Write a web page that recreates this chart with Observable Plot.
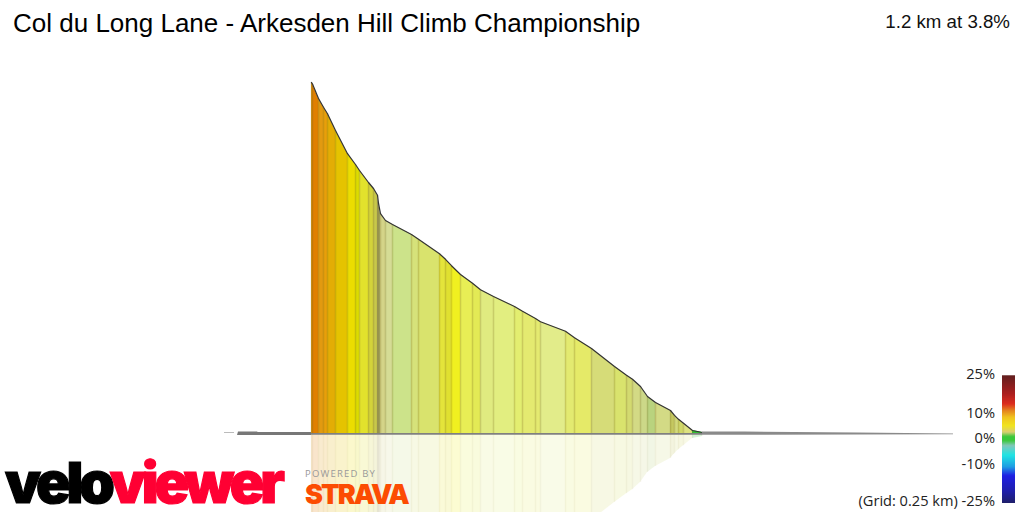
<!DOCTYPE html>
<html><head><meta charset="utf-8">
<script src="https://cdn.jsdelivr.net/npm/d3@7"></script>
<script src="https://cdn.jsdelivr.net/npm/@observablehq/plot@0.6"></script>
<style>
html,body{margin:0;padding:0;background:#fff;width:1024px;height:512px;overflow:hidden}
#wrap{position:relative;width:1024px;height:512px;overflow:hidden}
#wrap svg{position:absolute;left:0;top:0}
.t{position:absolute;white-space:nowrap;line-height:1}
.lg{font-family:"Open Sans",sans-serif;font-size:14.6px;color:#222;right:29px;text-align:right}
</style></head><body><div id="wrap"></div>
<script>
const titleText = "Col du Long Lane - Arkesden Hill Climb Championship";
const summaryText = "1.2 km at 3.8%";
const gridText = "(Grid: 0.25 km)";
// Climb: segment boundaries (m along route), elevation (m above foot), grade of the segment that starts there (%)
const distances = [0,3,21,36,48,72,108,132,144,171,186,198,201,207,222,243,300,321,384,402,420,447,483,507,546,609,633,672,687,762,789,840,909,945,963,987,1008,1032,1077,1089,1101,1116,1143,1173];
const elevations = [44,43.8,42.0,40.9,40.1,38,35.1,33.75,33,31.5,30.75,29.9,28.9,27.6,26.75,26.25,25,24.4,22.6,21.9,21.1,20,18.9,18.1,17.25,16,15.4,14.5,14.1,12.9,12.1,10.75,8.5,7.4,6.9,6,4.75,4,3,2.4,1.9,1.4,0.5,0.25];
const grades = [10.5,11,10,9.5,9,8,7,6.5,4.8,4.5,1.8,1,1,2.3,2.5,2,3.1,3,5,5.2,6,5.6,5.4,3.6,3.7,4.1,4,4,3.3,4.2,4.3,2.8,3,2.7,2.6,2.4,1.5,2.6,1.9,2.65,2.9,3.2,0.5];
// Colour stops of the gradient scale
const gradeStops = [0.5,1,1.5,1.8,1.9,2,2.3,2.4,2.5,2.6,2.7,2.8,2.9,3,3.1,3.2,3.3,3.6,3.7,4,4.1,4.2,4.3,4.5,4.8,5,5.2,5.4,5.6,6,6.5,7,8,9,9.5,10,10.5,11,13,18,25];
const gradeColors = ["#30c030","#a5a560","#b9d37e","#c8c84a","#c5c860","#cce38a","#d4d488","#ccd888","#d5dc95","#d3da85","#d3da70","#d6dc78","#d0d868","#d9e36d","#d6e27a","#dde280","#e2ec8a","#e0eb80","#e2ee80","#e4ea70","#e3ee70","#e3ea70","#e5ea68","#d3d33a","#e2e22c","#e4e43a","#e0e030","#e3ea55","#e8ee55","#f0f020","#dcdc00","#ebdd00","#e5c300","#e3ad05","#e89f0a","#e29a10","#e89a14","#e07f00","#d81000","#a00000","#4a0000"];
// Flat approach and run-out
const preDist = [-222,-219,-162,-160,0];
const preTop = [-0.12,0.3,0.32,0.25,0.25];
const stubDist = [-261,-231];
const postDist = [1173,1300,1640,1926];
const postTop = [0.31,0.3,0.2,0.05];
const postBottom = [-0.1,-0.1,-0.06,-0.04];
// Legend
const legendPos = [0,0.14,0.22,0.27,0.325,0.39,0.44,0.475,0.505,0.545,0.62,0.71,0.78,0.9,1];
const legendColors = ["#4d0000","#a00000","#d81000","#e07000","#eebb00","#eee000","#d5c860","#20c020","#20c020","#70c0b0","#00e0e0","#0090e0","#0000e0","#0000a0","#000050"];
const legendLabels = ["25%","10%","0%","-10%"];
const legendLabelY = [366,405,430,456];

const segs = grades.flatMap((g,i)=>[
  {i,grade:g,d:distances[i],e:elevations[i]},
  {i,grade:g,d:distances[i+1],e:elevations[i+1]}]);
const profile = distances.map((d,i)=>({d,e:elevations[i]}));
const pre = preDist.map((d,i)=>({d,t:preTop[i]}));
const post = postDist.map((d,i)=>({d,t:postTop[i],b:postBottom[i]}));

const main = Plot.plot({
  width:1024,height:512,margin:0,
  x:{domain:[-933,2139],range:[0,1024],axis:null},
  y:{domain:[54.25,-9.75],range:[0,512],axis:null},
  color:{type:"linear",domain:gradeStops,range:gradeColors},
  marks:[
    Plot.areaY(segs,{x:"d",y1:0,y2:d=>-d.e,z:"i",fill:"grade",fillOpacity:0.2}),
    Plot.ruleX(profile,{x:"d",y1:0,y2:d=>-d.e,stroke:"#8a7a30",strokeOpacity:0.06,strokeWidth:1.5}),
    Plot.areaY(segs,{x:"d",y1:0,y2:"e",z:"i",fill:"grade"}),
    Plot.ruleX(profile,{x:"d",y1:0,y2:"e",stroke:"#7a6a20",strokeOpacity:0.25,strokeWidth:1.5}),
    Plot.lineY(profile,{x:"d",y:"e",stroke:"#333",strokeWidth:1.2}),
    Plot.areaY(pre,{x:"d",y1:-0.125,y2:"t",fill:"#777"}),
    Plot.ruleY([0.25],{x1:stubDist[0],x2:stubDist[1],stroke:"#bbb",strokeWidth:1}),
    Plot.areaY([{d:0},{d:1173}],{x:"d",y1:-0.09,y2:0.14,fill:"#808080"}),
    Plot.areaY(post,{x:"d",y1:"b",y2:"t",fill:"#8a8a8a"})
  ]
});
const wrap = document.getElementById("wrap");
wrap.appendChild(main);

const bar = Plot.plot({
  width:13,height:128,margin:0,
  x:{axis:null},y:{domain:[0,1],range:[0,128],axis:null},
  color:{type:"linear",domain:legendPos,range:legendColors},
  marks:[Plot.ruleY(d3.range(0,1,1/128),{y:d=>d+0.004,stroke:d=>d,strokeWidth:1.3})]
});
bar.style.left="1002px";bar.style.top="375px";
wrap.appendChild(bar);

function addText(txt,css,cls){
  const el=document.createElement("div");el.className="t "+(cls||"");el.textContent=txt;
  el.style.cssText=css;wrap.appendChild(el);return el;
}
addText(titleText,'left:13px;top:10px;font:26px/1 "Liberation Sans",Arial,sans-serif;color:#000');
addText(summaryText,'right:14px;top:13px;font:18.7px/1 "Liberation Sans",Arial,sans-serif;color:#111');
legendLabels.forEach((l,i)=>addText(l,`top:${legendLabelY[i]}px`,"lg"));
addText(gridText+" -25%",'top:493px',"lg");
// logos
const logo=document.createElement("div");
logo.className="t";
logo.style.cssText='left:5px;top:454px;font:900 57px/1 Inter,"Liberation Sans",sans-serif;letter-spacing:-4.1px;-webkit-text-stroke:1.2px currentColor;color:#000';
logo.innerHTML='velo<span style="color:#ff0033">viewer</span>';
wrap.appendChild(logo);
addText("POWERED BY",'left:305px;top:469px;font:500 9.5px/1 "Open Sans",sans-serif;letter-spacing:1.2px;color:#999');
addText("STRAVA",'left:305px;top:481px;font:900 27px/1 Inter,"Liberation Sans",sans-serif;letter-spacing:-1.9px;color:#fc4c02');
</script></body></html>
